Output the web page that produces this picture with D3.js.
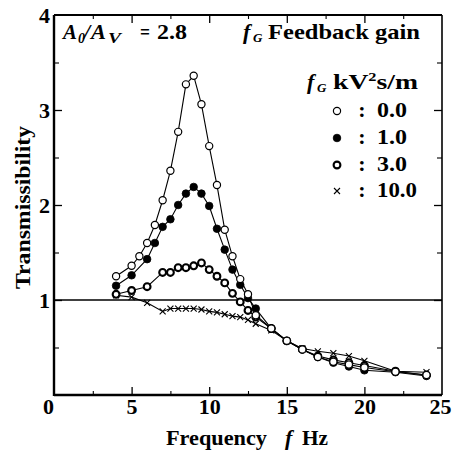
<!DOCTYPE html>
<html>
<head>
<meta charset="utf-8">
<script src="https://cdn.jsdelivr.net/npm/d3@7"></script>
<style>
  html, body { margin: 0; padding: 0; background: #fff; }
  svg { display: block; }
  text { font-family: "Liberation Serif", "Times New Roman", serif; font-weight: bold; fill: #000; }
</style>
</head>
<body>
<script>
// ---- data ----
const xTicks = [0, 5, 10, 15, 20, 25];
const yTicks = [1, 2, 3, 4];
const xMinor = [2.5, 7.5, 12.5, 17.5, 22.5];
const yMinor = [0.5, 1.5, 2.5, 3.5];

const freq0 = [4, 5, 5.5, 6, 6.5, 7, 7.5, 8, 8.5, 9, 9.5, 10, 10.5, 11, 11.5, 12, 12.5, 13, 14, 15, 16, 17, 18, 19, 20, 22, 24];
const trans0 = [1.25, 1.36, 1.46, 1.60, 1.79, 2.05, 2.36, 2.77, 3.27, 3.36, 3.06, 2.62, 2.21, 1.74, 1.46, 1.22, 1.06, 0.84, 0.70, 0.57, 0.48, 0.40, 0.35, 0.32, 0.29, 0.245, 0.21];

const freq1 = [4, 5, 6, 6.5, 7, 7.5, 8, 8.5, 9, 9.5, 10, 10.5, 11, 11.5, 12, 12.5, 13, 14, 15, 16, 17, 18, 19, 20, 22, 24];
const trans1 = [1.15, 1.26, 1.43, 1.60, 1.77, 1.85, 2.00, 2.12, 2.19, 2.12, 1.99, 1.75, 1.53, 1.32, 1.16, 1.02, 0.91, 0.70, 0.57, 0.48, 0.40, 0.34, 0.30, 0.26, 0.24, 0.20];

const freq3 = [4, 5, 6, 7, 7.5, 8, 8.5, 9, 9.5, 10, 10.5, 11, 11.5, 12, 12.5, 13, 14, 15, 16, 17, 18, 19, 20, 22, 24];
const trans3 = [1.06, 1.10, 1.14, 1.29, 1.29, 1.34, 1.34, 1.36, 1.39, 1.32, 1.25, 1.18, 1.07, 0.98, 0.89, 0.82, 0.70, 0.57, 0.48, 0.41, 0.37, 0.34, 0.31, 0.25, 0.21];

const freq10 = [4, 5, 6, 7, 7.5, 8, 8.5, 9, 9.5, 10, 10.5, 11, 11.5, 12, 12.5, 13, 14, 15, 16, 17, 18, 19, 20, 22, 24];
const trans10 = [1.05, 1.03, 0.97, 0.88, 0.91, 0.91, 0.91, 0.91, 0.90, 0.88, 0.87, 0.85, 0.83, 0.82, 0.79, 0.75, 0.68, 0.57, 0.49, 0.46, 0.44, 0.41, 0.36, 0.25, 0.24];

const legendLabels = ["0.0", "1.0", "3.0", "10.0"];
const legendMarkers = ["open", "filled", "bold", "cross"];

// ---- layout ----
const W = 455, H = 453;
const L = 54, R = 442, T = 15, B = 395;

const svg = d3.select("body").append("svg").attr("width", W).attr("height", H);

const x = d3.scaleLinear().domain([0, 25]).range([L, R]);
const y = d3.scaleLinear().domain([0, 4]).range([B, T]);

// reference line at transmissibility = 1
svg.append("line")
  .attr("x1", x(0)).attr("x2", x(25)).attr("y1", y(1)).attr("y2", y(1))
  .attr("stroke", "#000").attr("stroke-width", 1.3);

// axes with inward ticks
function styleAxis(g, width) {
  g.select(".domain").remove();
  g.selectAll(".tick line").attr("stroke", "#000").attr("stroke-width", width);
}
const axB = svg.append("g").attr("transform", `translate(0,${B})`)
  .call(d3.axisBottom(x).tickValues(xTicks).tickSizeInner(-8).tickSizeOuter(0).tickPadding(10).tickFormat(d3.format("d")));
styleAxis(axB, 1.3);
axB.selectAll(".tick text").attr("font-size", 22).attr("dy", "0.71em").attr("y", 3);
axB.selectAll(".tick").filter(d => d === 0).select("text").attr("dx", -6);
axB.selectAll(".tick").filter(d => d === 25).select("text").attr("dx", -2);
axB.selectAll(".tick").filter(d => d === 0 || d === 25).select("line").remove();
svg.append("g").attr("transform", `translate(0,${B})`)
  .call(d3.axisBottom(x).tickValues(xMinor).tickSizeInner(-4).tickSizeOuter(0).tickFormat(""))
  .call(g => styleAxis(g, 1.1));

const axT = svg.append("g").attr("transform", `translate(0,${T})`)
  .call(d3.axisTop(x).tickValues(xTicks.filter(d => d > 0 && d < 25)).tickSizeInner(-8).tickSizeOuter(0).tickFormat(""));
styleAxis(axT, 1.3);
svg.append("g").attr("transform", `translate(0,${T})`)
  .call(d3.axisTop(x).tickValues(xMinor).tickSizeInner(-4).tickSizeOuter(0).tickFormat(""))
  .call(g => styleAxis(g, 1.1));

const axL = svg.append("g").attr("transform", `translate(${L},0)`)
  .call(d3.axisLeft(y).tickValues(yTicks).tickSizeInner(-8).tickSizeOuter(0).tickPadding(12).tickFormat(d3.format("d")));
styleAxis(axL, 1.3);
axL.selectAll(".tick text").attr("font-size", 22).attr("x", -4).attr("dy", "0.35em");
axL.selectAll(".tick").filter(d => d === 4).select("line").remove();
svg.append("g").attr("transform", `translate(${L},0)`)
  .call(d3.axisLeft(y).tickValues(yMinor).tickSizeInner(-5).tickSizeOuter(0).tickFormat(""))
  .call(g => styleAxis(g, 1.1));

const axR = svg.append("g").attr("transform", `translate(${R},0)`)
  .call(d3.axisRight(y).tickValues(yTicks.filter(d => d < 4)).tickSizeInner(-8).tickSizeOuter(0).tickFormat(""));
styleAxis(axR, 1.3);
svg.append("g").attr("transform", `translate(${R},0)`)
  .call(d3.axisRight(y).tickValues(yMinor).tickSizeInner(-5).tickSizeOuter(0).tickFormat(""))
  .call(g => styleAxis(g, 1.1));

// frame
svg.append("line").attr("x1", L).attr("x2", R).attr("y1", B).attr("y2", B).attr("stroke", "#000").attr("stroke-width", 2.4);
svg.append("line").attr("x1", L).attr("x2", L).attr("y1", T).attr("y2", B + 1).attr("stroke", "#000").attr("stroke-width", 2.4);
svg.append("line").attr("x1", L).attr("x2", R).attr("y1", T).attr("y2", T).attr("stroke", "#000").attr("stroke-width", 2);
svg.append("line").attr("x1", R).attr("x2", R).attr("y1", T).attr("y2", B).attr("stroke", "#000").attr("stroke-width", 1.6);

// series
const series = [
  { f: freq10, t: trans10, m: "cross" },
  { f: freq3, t: trans3, m: "bold" },
  { f: freq1, t: trans1, m: "filled" },
  { f: freq0, t: trans0, m: "open" }
];
const line = d3.line().x(d => x(d[0])).y(d => y(d[1]));

series.forEach(s => {
  const pts = s.f.map((f, i) => [f, s.t[i]]);
  svg.append("path").datum(pts).attr("d", line)
    .attr("fill", "none").attr("stroke", "#000").attr("stroke-width", 1.1);
});

function drawMarker(g, kind, cx, cy) {
  if (kind === "open") {
    g.append("circle").attr("cx", cx).attr("cy", cy).attr("r", 3.6)
      .attr("fill", "#fff").attr("stroke", "#000").attr("stroke-width", 1.2);
  } else if (kind === "filled") {
    g.append("circle").attr("cx", cx).attr("cy", cy).attr("r", 3.8)
      .attr("fill", "#000").attr("stroke", "#000").attr("stroke-width", 0.8);
  } else if (kind === "bold") {
    g.append("circle").attr("cx", cx).attr("cy", cy).attr("r", 3.4)
      .attr("fill", "#fff").attr("stroke", "#000").attr("stroke-width", 2.1);
  } else {
    const s = 3;
    g.append("path").attr("d", `M${cx - s},${cy - s}L${cx + s},${cy + s}M${cx - s},${cy + s}L${cx + s},${cy - s}`)
      .attr("stroke", "#000").attr("stroke-width", 1.1).attr("fill", "none");
  }
}

series.forEach(s => {
  const g = svg.append("g");
  s.f.forEach((f, i) => drawMarker(g, s.m, x(f), y(s.t[i])));
});

// ---- annotations ----
function txt(xp, yp, size, str, opts = {}) {
  const t = svg.append("text").attr("x", xp).attr("y", yp).attr("font-size", size).text(str);
  if (opts.italic) t.attr("font-style", "italic");
  if (opts.len) t.attr("textLength", opts.len).attr("lengthAdjust", "spacingAndGlyphs");
  if (opts.anchor) t.attr("text-anchor", opts.anchor);
  return t;
}
// A0/AV = 2.8
txt(63, 39, 22, "A", { italic: true, len: 14 });
txt(78, 43, 14, "0", { italic: true });
txt(84, 39, 22, "/", { italic: true });
txt(91, 39, 22, "A", { italic: true, len: 15 });
txt(108, 43, 15, "V", { italic: true, len: 13 });
txt(140, 39, 22, "=", { len: 10 });
txt(157, 39, 22, "2.8", { len: 30 });

// fG Feedback gain
txt(243, 39, 22, "f", { italic: true });
txt(253, 42, 13, "G", { italic: true });
txt(268, 39, 22, "Feedback gain", { len: 152 });

// fG kV2s/m
txt(307, 89, 22, "f", { italic: true });
txt(317, 92, 13, "G", { italic: true });
const u = svg.append("text").attr("x", 333).attr("y", 89).attr("font-size", 22)
  .attr("textLength", 85).attr("lengthAdjust", "spacingAndGlyphs");
u.append("tspan").text("kV");
u.append("tspan").attr("font-size", 13).attr("dy", -8).text("2");
u.append("tspan").attr("dy", 8).text("s/m");

// legend
const legY = [111, 138, 165, 191];
legendLabels.forEach((lab, i) => {
  const g = svg.append("g");
  drawMarker(g, legendMarkers[i], 337, legY[i]);
  txt(362, legY[i] + 6, 22, ":", { anchor: "middle" });
  txt(377, legY[i] + 6, 22, lab, { len: lab.length === 3 ? 30 : 40 });
});

// axis titles
txt(166, 445, 22, "Frequency", { len: 101 });
txt(285, 445, 22, "f", { italic: true });
txt(302, 445, 22, "Hz", { len: 26 });

svg.append("text")
  .attr("transform", `translate(30,${(125 + 290) / 2}) rotate(-90)`)
  .attr("text-anchor", "middle").attr("font-size", 22)
  .attr("textLength", 163).attr("lengthAdjust", "spacingAndGlyphs")
  .text("Transmissibility");
</script>
</body>
</html>
